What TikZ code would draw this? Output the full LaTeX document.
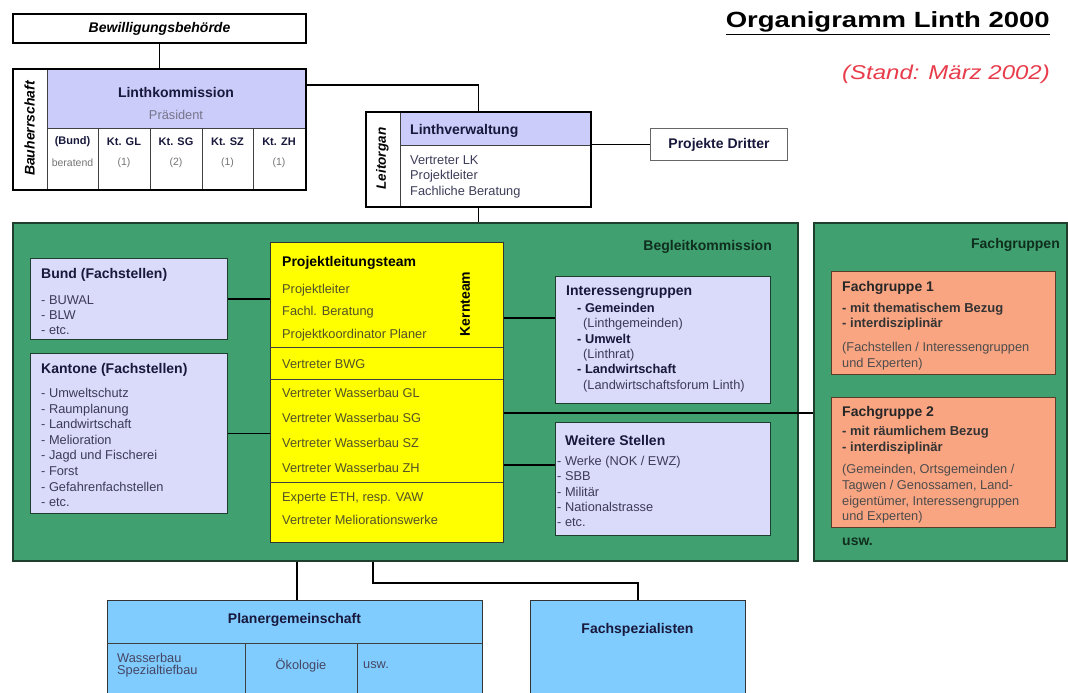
\documentclass[tikz,border=0pt]{standalone}
\usepackage{fontspec}
\setmainfont{Liberation Sans}
\usetikzlibrary{positioning}
\usetikzlibrary{arrows.meta}
\definecolor{lila}{RGB}{204,204,250}
\definecolor{lilabox}{RGB}{218,218,250}
\definecolor{bkgreen}{RGB}{64,160,112}
\definecolor{bkedge}{RGB}{30,62,46}
\definecolor{gruentext}{RGB}{16,46,30}
\definecolor{gelb}{RGB}{255,255,0}
\definecolor{olivtext}{RGB}{82,82,40}
\definecolor{lachs}{RGB}{250,165,130}
\definecolor{lachsrand}{RGB}{90,60,40}
\definecolor{hellblau}{RGB}{128,204,255}
\definecolor{stand}{RGB}{232,60,75}
\definecolor{navy}{RGB}{24,24,60}
\definecolor{listtext}{RGB}{60,60,88}

\begin{document}
\begin{tikzpicture}[x=1pt, y=-1pt,
    rahmen/.style={draw=black, line width=2pt, inner sep=0pt, anchor=north west},
    feld/.style={draw=bkedge, line width=1.2pt, inner sep=0pt, anchor=north west},
    titel/.style={font=\fontsize{14}{16}\selectfont\bfseries, text=navy, inner sep=0pt},
    zeile/.style={font=\fontsize{12.8}{15.6}\selectfont, text=listtext, inner sep=0pt, anchor=west, align=left},
    linie/.style={line width=1.5pt, draw=black},
    teiler/.style={line width=1pt, draw=black!75}]
\useasboundingbox (0,0) rectangle (1068,693);
\clip (0,0) rectangle (1068,693);

% Kopf
\node[anchor=base east, inner sep=0pt, font=\fontsize{22}{26}\selectfont\bfseries] (kopf) at (1050,28) {\scalebox{1.25}[1]{\underline{Organigramm Linth 2000}}};
\node[anchor=base east, inner sep=0pt, text=stand, font=\fontsize{20}{24}\selectfont\itshape] (stand) at (1050,79) {\scalebox{1.2}[1]{(Stand: März 2002)}};

% Bewilligungsbehoerde und Linthkommission
\node[rahmen, minimum width=293pt, minimum height=29pt, font=\fontsize{14}{16}\selectfont\bfseries\itshape] (bewill) at (12,13) {Bewilligungsbehörde};
\fill[lila] (47,68) rectangle (305,128);
\draw[teiler] (47,68) -- (47,189) (47,128) -- (305,128);
\foreach \x in {98,150,202,253}
    \draw[teiler] (\x,128) -- (\x,189);
\node[rahmen, minimum width=293pt, minimum height=121pt] (lk) at (12,68) {};
\node[titel, rotate=90, text=black, font=\fontsize{14}{16}\selectfont\bfseries\itshape] (bauherr) at (29.5,128.5) {Bauherrschaft};
\node[titel] (lktitel) at (176,92) {Linthkommission};
\node[zeile, anchor=center, text=navy!60] (praes) at (176,115) {Präsident};
\foreach \x/\kt/\sitz [count=\i] in {72.5/{(Bund)}/{beratend}, 124/{Kt. GL}/{(1)}, 176/{Kt. SG}/{(2)}, 227.5/{Kt. SZ}/{(1)}, 279/{Kt. ZH}/{(1)}} {
    \node[font=\fontsize{11}{13}\selectfont\bfseries, text=navy, inner sep=0pt] (kt\i) at (\x,142) {\kt};
    \node[font=\fontsize{10.5}{13}\selectfont, text=black!55, inner sep=0pt] (sitz\i) at (\x,163) {\sitz};
}

% Linthverwaltung
\fill[lila] (400,111) rectangle (590,145);
\draw[teiler] (400,111) -- (400,206) (400,145) -- (590,145);
\node[rahmen, minimum width=225pt, minimum height=95pt] (lv) at (365,111) {};
\node[titel, rotate=90, text=black, font=\fontsize{13.5}{16}\selectfont\bfseries\itshape] (leitorgan) at (382.5,158.5) {Leitorgan};
\node[titel, anchor=west] (lvtitel) at (410,131) {Linthverwaltung};
\node[zeile, font=\fontsize{12.8}{15.5}\selectfont] (lvliste) at (410,176.5) {Vertreter LK\\Projektleiter\\Fachliche Beratung};
\node[draw=black!60, line width=1pt, inner sep=0pt, anchor=north west, minimum width=137pt, minimum height=32pt, font=\fontsize{14}{16}\selectfont\bfseries, text=navy] (dritter) at (650,128) {Projekte Dritter};

% Begleitkommission und Fachgruppen
\node[feld, fill=bkgreen, line width=1.5pt, minimum width=785pt, minimum height=338pt] (begleit) at (12,222) {};
\node[feld, fill=bkgreen, line width=1.5pt, minimum width=253pt, minimum height=338pt] (fachgr) at (813,222) {};
\node[titel, anchor=east, text=gruentext] (begleittitel) at (772,247) {Begleitkommission};
\node[titel, anchor=east, text=gruentext] (fachgrtitel) at (1060,245) {Fachgruppen};

% Fachstellen
\node[feld, fill=lilabox, minimum width=197pt, minimum height=81pt] (bund) at (30,258) {};
\node[titel, anchor=west] (bundtitel) at (41,275) {Bund (Fachstellen)};
\node[zeile, font=\fontsize{12.8}{15}\selectfont] (bundliste) at (41,315) {- BUWAL\\- BLW\\- etc.};
\node[feld, fill=lilabox, minimum width=197pt, minimum height=160pt] (kantone) at (30,353) {};
\node[titel, anchor=west] (kantonetitel) at (41,370) {Kantone (Fachstellen)};
\node[zeile] (kantoneliste) at (41,447.5) {- Umweltschutz\\- Raumplanung\\- Landwirtschaft\\- Melioration\\- Jagd und Fischerei\\- Forst\\- Gefahrenfachstellen\\- etc.};

% Projektleitungsteam
\node[feld, draw=black!80, fill=gelb, minimum width=233pt, minimum height=300pt] (plt) at (270,242) {};
\foreach \y in {347,379,482}
    \draw[teiler] (270,\y) -- (503,\y);
\node[titel, anchor=west, text=black] (plttitel) at (282,263) {Projektleitungsteam};
\node[zeile, text=olivtext, font=\fontsize{12.8}{22.5}\selectfont] (kern) at (282,312.5) {Projektleiter\\Fachl. Beratung\\Projektkoordinator Planer};
\node[titel, rotate=90, text=black] (kernteam) at (465,304) {Kernteam};
\node[zeile, text=olivtext] (bwg) at (282,364) {Vertreter BWG};
\node[zeile, text=olivtext, font=\fontsize{12.8}{25}\selectfont] (wasserbau) at (282,430.5) {Vertreter Wasserbau GL\\Vertreter Wasserbau SG\\Vertreter Wasserbau SZ\\Vertreter Wasserbau ZH};
\node[zeile, text=olivtext, font=\fontsize{12.8}{23}\selectfont] (experten) at (282,508.5) {Experte ETH, resp. VAW\\Vertreter Meliorationswerke};

% Interessengruppen und weitere Stellen
\node[feld, fill=lilabox, minimum width=215pt, minimum height=127pt] (igruppen) at (555,276) {};
\node[titel, anchor=west] (igtitel) at (566,292) {Interessengruppen};
\node[zeile, font=\fontsize{12.8}{15.4}\selectfont] (igliste) at (577,347.5) {\textcolor{navy}{\bfseries - Gemeinden}\\\hspace*{6pt}(Linthgemeinden)\\\textcolor{navy}{\bfseries - Umwelt}\\\hspace*{6pt}(Linthrat)\\\textcolor{navy}{\bfseries - Landwirtschaft}\\\hspace*{6pt}(Landwirtschaftsforum Linth)};
\node[feld, fill=lilabox, minimum width=215pt, minimum height=113pt] (weitere) at (555,422) {};
\node[titel, anchor=west] (wtitel) at (565,440) {Weitere Stellen};
\node[zeile, font=\fontsize{12.8}{15.25}\selectfont] (wliste) at (557,491.5) {- Werke (NOK / EWZ)\\- SBB\\- Militär\\- Nationalstrasse\\- etc.};

% Fachgruppe 1 und 2
\node[feld, draw=lachsrand, fill=lachs, minimum width=224pt, minimum height=103pt] (fg1) at (831,271) {};
\node[titel, anchor=west, text=black!85] (fg1titel) at (842,288) {Fachgruppe 1};
\node[zeile, font=\fontsize{13}{15}\selectfont\bfseries, text=black!80] (fg1bezug) at (842,316.5) {- mit thematischem Bezug\\- interdisziplinär};
\node[zeile, text=black!70, font=\fontsize{12.8}{16}\selectfont] (fg1wer) at (842,356) {(Fachstellen / Interessengruppen\\und Experten)};
\node[feld, draw=lachsrand, fill=lachs, minimum width=224pt, minimum height=130pt] (fg2) at (831,397) {};
\node[titel, anchor=west, text=black!85] (fg2titel) at (842,413) {Fachgruppe 2};
\node[zeile, font=\fontsize{13}{16}\selectfont\bfseries, text=black!80] (fg2bezug) at (842,440) {- mit räumlichem Bezug\\- interdisziplinär};
\node[zeile, text=black!70, font=\fontsize{12.8}{15.6}\selectfont] (fg2wer) at (842,494) {(Gemeinden, Ortsgemeinden /\\Tagwen / Genossamen, Land-\\eigentümer, Interessengruppen\\und Experten)};
\node[titel, anchor=west, text=gruentext] (fgusw) at (842,542) {usw.};

% Planer und Spezialisten
\node[feld, draw=black!80, fill=hellblau, minimum width=375pt, minimum height=100pt] (planer) at (107,600) {};
\draw[teiler] (107,643) -- (482,643) (245,643) -- (245,700) (357,643) -- (357,700);
\node[titel] (planertitel) at (294.5,620) {Planergemeinschaft};
\node[zeile, font=\fontsize{12.8}{12}\selectfont, text=navy!80] (wasser) at (117,665) {Wasserbau\\Spezialtiefbau};
\node[zeile, anchor=center, text=navy!80] (oeko) at (301,665) {Ökologie};
\node[zeile, text=navy!80] (planerusw) at (363,665) {usw.};
\node[feld, draw=black!80, fill=hellblau, minimum width=215pt, minimum height=100pt] (fachsp) at (530,600) {};
\node[titel] (fachsptitel) at (637.5,630) {Fachspezialisten};

% Verbindungen
\coordinate (lkab) at (305,85);
\coordinate (abI) at (0,318);
\coordinate (abF) at (0,413);
\coordinate (abW) at (0,465);
\coordinate (abP) at (297,0);
\coordinate (abS) at (373,583);
\draw[linie] (bewill) -- (lk);
\draw[linie] (lk.east |- lkab) -| (lv.north);
\draw[linie] (lv.south) -- (lv.south |- begleit.north);
\draw[linie] (lv.east |- dritter) -- (dritter.west);
\draw[linie] (bund.east) -- (bund.east -| plt.west);
\draw[linie] (kantone.east) -- (kantone.east -| plt.west);
\draw[linie] (plt.east |- abI) -- (igruppen.west |- abI);
\draw[linie] (plt.east |- abF) -- (fachgr.west |- abF);
\draw[linie] (plt.east |- abW) -- (weitere.west |- abW);
\draw[linie] (begleit.south -| abP) -- (planer.north -| abP);
\draw[linie] (begleit.south -| abS) |- (fachsp.north |- abS) -- (fachsp.north);
\end{tikzpicture}
\end{document}
